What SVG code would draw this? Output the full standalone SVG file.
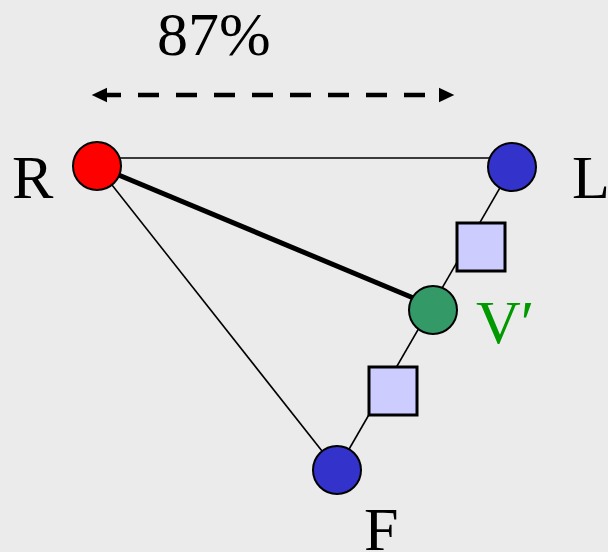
<svg xmlns="http://www.w3.org/2000/svg" width="608" height="552" viewBox="0 0 608 552">
<style>
.lbl{font-size:62px;fill:#000}
.node{stroke:#000;stroke-width:2}
.sq{fill:#ccccff;stroke:#000;stroke-width:3}
.thin{stroke:#000;stroke-width:1.6;fill:none}
</style>
<defs>
<marker id="ah" markerWidth="4" markerHeight="4" refX="2" refY="2" orient="auto-start-reverse" markerUnits="strokeWidth">
<path d="M0,0.4 L3.4,2 L0,3.6 Z" fill="#000"/>
</marker>
</defs>
<rect width="608" height="552" fill="#ebebeb"/>
<g id="connectors">
<line class="thin" x1="97" y1="158" x2="512" y2="158"/>
<line class="thin" x1="97" y1="166" x2="337" y2="470"/>
<line class="thin" x1="512" y1="167" x2="337" y2="470"/>
<line x1="97" y1="166" x2="423" y2="302" stroke="#000" stroke-width="5"/>
<line x1="98" y1="95" x2="448" y2="95" stroke="#000" stroke-width="4.5" stroke-dasharray="21 17" stroke-dashoffset="-2" marker-start="url(#ah)" marker-end="url(#ah)"/>
</g>
<g id="sq1"><rect class="sq" x="457" y="223" width="48" height="48"/></g>
<g id="sq2"><rect class="sq" x="369" y="367" width="48" height="48"/></g>
<g id="R"><circle class="node" cx="97" cy="166" r="24" fill="#ff0000"/><text class="lbl" font-family="Liberation Serif, serif" x="12" y="198">R</text></g>
<g id="L"><circle class="node" cx="512" cy="167" r="24" fill="#3333cc"/><text class="lbl" font-family="Liberation Serif, serif" x="572" y="198">L</text></g>
<g id="V"><circle class="node" cx="433" cy="310" r="24" fill="#339966"/><text class="lbl" font-family="Liberation Serif, serif" x="476" y="343" style="fill:#009900">V′</text></g>
<g id="F"><circle class="node" cx="337" cy="470" r="24" fill="#3333cc"/><text class="lbl" font-family="Liberation Serif, serif" x="364" y="550">F</text></g>
<g id="pct"><text class="lbl" font-family="Liberation Serif, serif" x="157" y="55">87%</text></g>
</svg>
